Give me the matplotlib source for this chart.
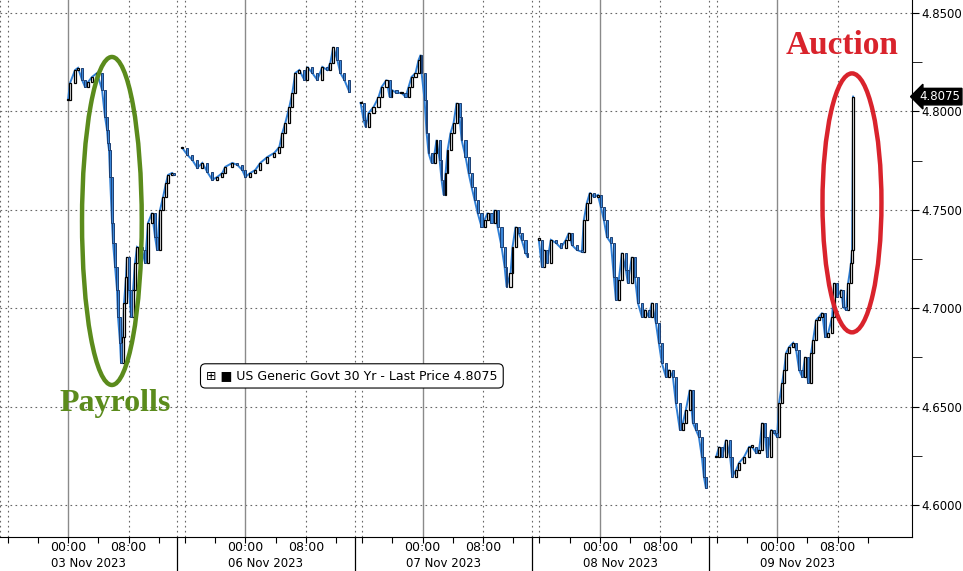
import matplotlib.pyplot as plt
import matplotlib.transforms as mtransforms
from matplotlib.patches import Ellipse
import numpy as np

# Trading sessions shown on the chart
day_labels = ["03 Nov 2023", "06 Nov 2023", "07 Nov 2023", "08 Nov 2023", "09 Nov 2023"]

# bar times, hours relative to each session's 00:00, and closing yield
t_nov03 = [0.00, 0.26, 0.93, 1.32, 1.85, 2.25, 2.65, 3.17, 3.84, 4.50, 4.89, 5.16, 5.29,
           5.42, 5.56, 5.82, 5.95, 6.22, 6.48, 6.61, 6.88, 7.01, 7.28, 7.41, 7.67, 7.80,
           8.07, 8.33, 8.60, 8.86, 9.13, 9.79, 10.19, 10.58, 11.11, 11.51, 11.77, 12.17,
           12.57, 12.96, 13.23, 13.76, 14.02]
y_nov03 = [4.8058, 4.8144, 4.8210, 4.8221, 4.8160, 4.8124, 4.8149, 4.8175, 4.8195, 4.8109,
           4.7972, 4.7906, 4.7840, 4.7804, 4.7667, 4.7433, 4.7332, 4.7210, 4.7093, 4.6956,
           4.6824, 4.6722, 4.6854, 4.7027, 4.7159, 4.7260, 4.7093, 4.6956, 4.7093, 4.7230,
           4.7311, 4.7296, 4.7230, 4.7433, 4.7484, 4.7362, 4.7296, 4.7499, 4.7565, 4.7636,
           4.7677, 4.7687, 4.7677]

t_nov06 = [-8.33, -7.67, -7.01, -6.35, -5.69, -5.03, -4.37, -3.70, -3.04, -2.65, -1.72,
           -1.06, -0.40, 0.00, 0.66, 1.32, 1.98, 2.91, 3.84, 4.50, 4.89, 5.29, 5.82, 6.22,
           6.61, 7.14, 7.80, 8.20, 8.86, 9.52, 10.19, 10.85, 11.24, 11.64, 12.17, 12.57,
           13.10, 13.76]
y_nov06 = [4.7814, 4.7779, 4.7753, 4.7713, 4.7738, 4.7692, 4.7652, 4.7667, 4.7687, 4.7718,
           4.7738, 4.7728, 4.7702, 4.7667, 4.7687, 4.7702, 4.7738, 4.7768, 4.7789, 4.7819,
           4.7890, 4.7941, 4.8022, 4.8094, 4.8195, 4.8210, 4.8160, 4.8226, 4.8195, 4.8160,
           4.8226, 4.8210, 4.8246, 4.8327, 4.8261, 4.8195, 4.8160, 4.8099]

t_nov07 = [-8.20, -7.80, -7.54, -7.14, -6.48, -5.82, -5.42, -4.76, -4.37, -4.10, -3.44,
           -2.78, -2.25, -1.85, -1.46, -0.93, -0.53, -0.26, -0.13, 0.26, 0.53, 0.79, 1.19,
           1.59, 1.85, 2.25, 2.51, 2.78, 3.04, 3.31, 3.70, 4.10, 4.50, 4.89, 5.16, 5.69,
           6.08, 6.48, 6.88, 7.28, 7.80, 8.20, 8.60, 9.13, 9.52, 9.92, 10.45, 10.85, 11.11,
           11.64, 11.90, 12.30, 12.70, 13.10, 13.62, 13.89]
y_nov07 = [4.8043, 4.7956, 4.7921, 4.7992, 4.8022, 4.8073, 4.8124, 4.8160, 4.8073, 4.8109,
           4.8094, 4.8094, 4.8073, 4.8124, 4.8175, 4.8195, 4.8261, 4.8287, 4.8195, 4.8058,
           4.7890, 4.7789, 4.7738, 4.7789, 4.7855, 4.7753, 4.7652, 4.7575, 4.7687, 4.7804,
           4.7890, 4.7941, 4.8043, 4.7972, 4.7855, 4.7768, 4.7687, 4.7616, 4.7550, 4.7484,
           4.7413, 4.7448, 4.7484, 4.7433, 4.7499, 4.7413, 4.7311, 4.7210, 4.7108, 4.7179,
           4.7311, 4.7413, 4.7382, 4.7347, 4.7281, 4.7260]

t_nov08 = [-8.07, -7.67, -7.41, -7.01, -6.48, -5.82, -5.16, -4.50, -4.10, -3.70, -3.04,
           -2.38, -2.12, -1.72, -1.32, -0.79, -0.26, 0.13, 0.53, 0.93, 1.46, 1.85, 2.12,
           2.51, 2.91, 3.44, 3.70, 4.23, 4.63, 5.03, 5.56, 5.95, 6.48, 6.88, 7.41, 7.80,
           8.20, 8.73, 9.13, 9.66, 10.05, 10.58, 10.98, 11.38, 11.90, 12.30, 12.70, 13.10,
           13.49, 13.76, 14.02]
y_nov08 = [4.7347, 4.7210, 4.7296, 4.7230, 4.7347, 4.7332, 4.7306, 4.7347, 4.7382, 4.7321,
           4.7296, 4.7286, 4.7448, 4.7535, 4.7586, 4.7565, 4.7575, 4.7514, 4.7448, 4.7362,
           4.7332, 4.7159, 4.7042, 4.7144, 4.7281, 4.7194, 4.7128, 4.7260, 4.7159, 4.7027,
           4.6956, 4.6991, 4.6956, 4.7027, 4.6925, 4.6824, 4.6722, 4.6651, 4.6686, 4.6651,
           4.6519, 4.6382, 4.6417, 4.6483, 4.6585, 4.6417, 4.6382, 4.6346, 4.6244, 4.6143,
           4.6087]

t_nov09 = [-8.07, -7.67, -7.28, -6.75, -6.22, -5.95, -5.42, -5.03, -4.37, -3.70, -3.31,
           -2.78, -2.38, -1.98, -1.59, -1.32, -0.79, -0.40, 0.00, 0.26, 0.66, 0.93, 1.19,
           1.59, 2.12, 2.51, 2.91, 3.31, 3.70, 4.10, 4.50, 4.76, 5.16, 5.56, 5.95, 6.35,
           6.75, 7.28, 7.54, 7.94, 8.47, 8.73, 9.13, 9.39, 9.79, 9.92, 10.05]
y_nov09 = [4.6244, 4.6295, 4.6244, 4.6331, 4.6244, 4.6143, 4.6178, 4.6214, 4.6244, 4.6295,
           4.6295, 4.6265, 4.6280, 4.6417, 4.6346, 4.6244, 4.6382, 4.6366, 4.6346, 4.6519,
           4.6620, 4.6686, 4.6773, 4.6803, 4.6824, 4.6788, 4.6686, 4.6651, 4.6752, 4.6620,
           4.6773, 4.6839, 4.6940, 4.6956, 4.6976, 4.6854, 4.6874, 4.6956, 4.7128, 4.7057,
           4.7093, 4.7006, 4.6991, 4.7128, 4.7230, 4.7296, 4.8075]

last_price = 4.8075
y_major = [4.60, 4.65, 4.70, 4.75, 4.80, 4.85]
y_minor = [4.625, 4.675, 4.725, 4.775, 4.825]

sessions = [(t_nov03, y_nov03), (t_nov06, y_nov06), (t_nov07, y_nov07),
            (t_nov08, y_nov08), (t_nov09, y_nov09)]

DAY = 23.45          # width of one session block on the compressed axis (hours)
B0, B1 = -9.0, 14.45  # block start / end relative to midnight

fig = plt.figure(figsize=(9.63, 5.71), dpi=100)
ax = fig.add_axes([0, 34 / 571, 912 / 963, 537 / 571])
ax.set_xlim(-9.0, 111.64)
ax.set_ylim(4.5837, 4.8566)

grid_kw = dict(color="#666666", lw=0.8, ls=(0, (1.5, 3)), zorder=0)
for y in y_major:
    ax.axhline(y, **grid_kw)
for i in range(len(sessions)):
    off = i * DAY
    ax.axvline(off, color="#8a8a8a", lw=1.0, zorder=0)
    ax.axvline(off + 8, **grid_kw)
    ax.axvline(off - 8, **grid_kw)
    ax.axvline(off + B0, **grid_kw)

# candles: open = previous close inside each session
for i, (t, c) in enumerate(sessions):
    x = np.array(t) + i * DAY
    c = np.array(c)
    ax.plot(x, c, color="#2f7fd6", lw=1.4, zorder=2, solid_joinstyle="miter")
    o = np.r_[c[0], c[:-1]]
    dt = np.diff(x, prepend=x[0] - 0.4)
    w = np.clip(0.7 * dt, 0.18, 0.3)
    up = c >= o
    lo = np.minimum(o, c)
    h = np.maximum(np.abs(c - o), 0.0007)
    ax.bar(x[up], h[up], width=w[up], bottom=lo[up], facecolor="white",
           edgecolor="black", lw=0.9, zorder=3)
    ax.bar(x[~up], h[~up], width=w[~up], bottom=lo[~up], facecolor="#3a86d8",
           edgecolor="#1c3f73", lw=0.7, zorder=3)

# axes styling
for s in ["left", "top"]:
    ax.spines[s].set_visible(False)
ax.spines["bottom"].set_color("black")
ax.spines["right"].set_color("black")
ax.yaxis.tick_right()
ax.set_yticks(y_major)
ax.set_yticklabels([f"{v:.4f}" for v in y_major], fontsize=8.5)
ax.set_yticks(y_minor, minor=True)
ax.tick_params(axis="y", which="major", direction="out", length=5, pad=2)
ax.tick_params(axis="y", which="minor", direction="out", length=7)

xt = [i * DAY + h for i in range(len(sessions)) for h in (-8, -4, 0, 4, 8, 12)]
ax.set_xticks(xt)
ax.set_xticklabels([])
ax.tick_params(axis="x", direction="out", length=4)

trans = mtransforms.blended_transform_factory(ax.transData, ax.transAxes)
for i, lab in enumerate(day_labels):
    off = i * DAY
    ax.text(off, -0.019, "00:00", transform=trans, ha="center", va="center", fontsize=9)
    ax.text(off + 8, -0.019, "08:00", transform=trans, ha="center", va="center", fontsize=9)
    ax.text(off + (B0 + B1) / 2, -0.049, lab, transform=trans, ha="center",
            va="center", fontsize=8.5)
    if i > 0:
        ax.plot([off + B0, off + B0], [0, -0.07], transform=trans, color="black",
                lw=0.9, clip_on=False)

# last price tag on the right axis
ytrans = mtransforms.blended_transform_factory(ax.transAxes, ax.transData)
ax.text(1.008, last_price, f"{last_price:.4f}", transform=ytrans, ha="left", va="center",
        fontsize=8.5, color="white",
        bbox=dict(boxstyle="larrow,pad=0.15", fc="black", ec="black"))

# legend box
ax.text(0.226, 0.30, "\u229e \u25a0 US Generic Govt 30 Yr - Last Price 4.8075",
        transform=ax.transAxes, ha="left", va="center", fontsize=9,
        bbox=dict(boxstyle="round,pad=0.45,rounding_size=0.4", fc="white", ec="black", lw=0.8),
        zorder=5)

# annotations
green = "#5b8b1c"
red = "#d9232c"
ax.add_patch(Ellipse((5.8, 4.7443), 7.9, 0.1667, fill=False, ec=green, lw=3.2, zorder=4))
ax.text(6.2, 4.6513, "Payrolls", color=green, fontsize=23, fontweight="bold",
        family="Liberation Serif", ha="center", va="center")
ax.add_patch(Ellipse((103.7, 4.7535), 7.8, 0.1316, fill=False, ec=red, lw=3.2, zorder=4))
ax.text(102.4, 4.8337, "Auction", color=red, fontsize=24, fontweight="bold",
        family="Liberation Serif", ha="center", va="center")

fig.savefig("out.png", dpi=100, facecolor="white")
